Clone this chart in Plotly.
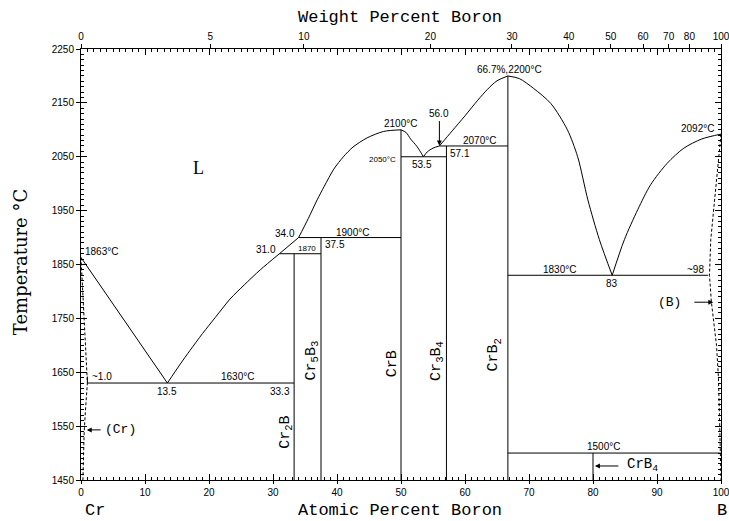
import plotly.graph_objects as go

# ---- Cr-B phase diagram data (composition in at.% B, temperature in °C) ----
# Liquidus branches
liq_cr_x = [0.0, 13.5]
liq_cr_t = [1863, 1630]
liq_cr2b_x = [13.5, 15.5, 17.0, 19.0, 21.0, 23.3, 25.5, 28.0, 31.0]
liq_cr2b_t = [1630, 1665, 1690, 1722, 1752, 1786, 1812, 1840, 1870]
liq_cr5b3_x = [31.0, 34.0]
liq_cr5b3_t = [1870, 1900]
liq_crb_lo_x = [34.0, 35.5, 36.9, 38.0, 39.5, 41.0, 42.5, 44.7, 47.3, 50.0]
liq_crb_lo_t = [1900, 1935, 1970, 1995, 2027, 2050, 2068, 2085, 2097, 2100]
liq_crb_hi_x = [50.0, 50.8, 51.5, 52.5, 53.5]
liq_crb_hi_t = [2100, 2095, 2083, 2069, 2050]
liq_cr3b4_x = [53.5, 54.1, 55.0, 56.0]
liq_cr3b4_t = [2050, 2059, 2066, 2070]
liq_crb2_lo_x = [56.0, 58.0, 60.0, 62.0, 63.5, 65.0, 66.7]
liq_crb2_lo_t = [2070, 2098, 2126, 2155, 2175, 2191, 2200]
liq_crb2_hi_x = [66.7, 68.5, 70.7, 73.4, 76.0, 77.6, 79.2, 81.0, 83.0]
liq_crb2_hi_t = [2200, 2195, 2177, 2149, 2100, 2050, 1970, 1896, 1830]
liq_b_x = [83.0, 84.9, 87.0, 89.0, 91.6, 94.2, 97.0, 100.0]
liq_b_t = [1830, 1896, 1952, 1998, 2038, 2066, 2083, 2092]

# Terminal solid solutions (dashed)
ss_cr_x = [0.0, 0.3, 0.6, 1.0, 0.7, 0.5, 0.3]
ss_cr_t = [1863, 1800, 1720, 1630, 1580, 1540, 1450]
ss_b_x = [100.0, 99.4, 98.95, 98.4, 98.2, 98.5, 99.3, 99.6, 99.8, 100.0]
ss_b_t = [2092, 2020, 1970, 1896, 1830, 1780, 1700, 1640, 1550, 1450]

# Invariant reactions: temperature, left and right composition
inv_t = [1630, 1870, 1900, 2050, 2070, 1830, 1500]
inv_x0 = [1.0, 31.0, 34.0, 50.0, 56.0, 66.7, 66.7]
inv_x1 = [33.3, 37.5, 50.0, 57.1, 66.7, 98.0, 100.0]

# Line compounds: composition, upper temperature, lower temperature
cmp_x = [33.3, 37.5, 50.0, 57.1, 66.7, 80.0]
cmp_top = [1870, 1900, 2100, 2070, 2200, 1500]
cmp_bot = [1450, 1450, 1450, 1450, 1450, 1450]

# Axis ticks
at_ticks = list(range(0, 101, 10))
wt_labels = [0, 5, 10, 20, 30, 40, 50, 60, 70, 80, 100]
M_B, M_CR = 10.81, 51.996


def wt_to_at(w):
    if w >= 100:
        return 100.0
    nb = w / M_B
    return 100.0 * nb / (nb + (100.0 - w) / M_CR)


wt_pos = [wt_to_at(w) for w in wt_labels]

BLACK = "#000000"
fig = go.Figure()


def add_line(xs, ts, dash="solid", shape="linear"):
    fig.add_trace(go.Scatter(x=xs, y=ts, mode="lines", hoverinfo="skip",
                             line=dict(color=BLACK, width=1, dash=dash,
                                       shape=shape, smoothing=0.8),
                             showlegend=False))


add_line(liq_cr_x, liq_cr_t)
add_line(liq_cr5b3_x, liq_cr5b3_t)
for xs, ts in [(liq_cr2b_x, liq_cr2b_t), (liq_crb_lo_x, liq_crb_lo_t),
               (liq_crb_hi_x, liq_crb_hi_t), (liq_cr3b4_x, liq_cr3b4_t),
               (liq_crb2_lo_x, liq_crb2_lo_t), (liq_crb2_hi_x, liq_crb2_hi_t),
               (liq_b_x, liq_b_t)]:
    add_line(xs, ts, shape="spline")

add_line(ss_cr_x, ss_cr_t, dash="3px,2px")
add_line(ss_b_x, ss_b_t, dash="3px,2px")

for t, a, b in zip(inv_t, inv_x0, inv_x1):
    add_line([a, b], [t, t])

for x, top, bot in zip(cmp_x, cmp_top, cmp_bot):
    add_line([x, x], [bot, top])

# small end bracket of the 1630 °C line at ~1.0
add_line([inv_x0[0], inv_x0[0]], [inv_t[0], inv_t[0] + 12])

# helper traces that anchor the overlay axes
fig.add_trace(go.Scatter(x=[None], y=[None], xaxis="x2", yaxis="y",
                         showlegend=False, hoverinfo="skip"))
fig.add_trace(go.Scatter(x=[None], y=[None], xaxis="x3", yaxis="y3",
                         showlegend=False, hoverinfo="skip"))

TICKFONT = dict(family="Liberation Sans", size=10, color=BLACK)
SANS = "Liberation Sans"
MONO = "Liberation Mono"
SERIF = "Liberation Serif"

ann = []


def label(text, x, y, size=10, xanchor="center", yanchor="middle",
          family=SANS, angle=0):
    ann.append(dict(text=text, x=x, y=y, xref="x", yref="y", showarrow=False,
                    xanchor=xanchor, yanchor=yanchor, textangle=angle,
                    font=dict(family=family, size=size, color=BLACK)))


def arrow(x, y, ax, ay):
    ann.append(dict(text="", x=x, y=y, ax=ax, ay=ay, xref="x", yref="y",
                    axref="x", ayref="y", showarrow=True, arrowhead=2,
                    arrowsize=1, arrowwidth=1, arrowcolor=BLACK))


label("L", 18.3, 2030, size=18, family=SERIF)
label("1863°C", 0.3, 1874, size=10, xanchor="left")
label("~1.0", 1.4, 1642, size=10, xanchor="left")
label("13.5", 13.5, 1614, size=10)
label("1630°C", 24.4, 1642, size=10)
label("33.3", 33.0, 1614, size=10, xanchor="right")
label("31.0", 30.8, 1878, size=10, xanchor="right")
label("34.0", 33.8, 1908, size=10, xanchor="right")
label("1870", 35.3, 1880, size=8)
label("37.5", 37.8, 1887, size=10, xanchor="left")
label("1900°C", 42.4, 1910, size=10)
label("2100°C", 49.9, 2112, size=10)
label("2050°C", 49.6, 2045, size=8, xanchor="right")
label("53.5", 53.3, 2036, size=10)
label("56.0", 56.0, 2130, size=10)
arrow(56.0, 2071, 56.0, 2119)
label("2070°C", 62.3, 2081, size=10)
label("57.1", 57.3, 2056, size=10, xanchor="left")
label("66.7%,2200°C", 66.9, 2212, size=10)
label("2092°C", 96.3, 2103, size=10)
label("1830°C", 74.8, 1841, size=10)
label("83", 83.0, 1815, size=10)
label("~98", 97.6, 1841, size=10, xanchor="right")
label("(B)", 94.0, 1780, size=13, xanchor="right", family=MONO)
arrow(98.8, 1780, 95.6, 1780)
label("1500°C", 81.6, 1512, size=10)
label("CrB<sub>4</sub>", 85.0, 1478, size=14, xanchor="left", family=MONO)
arrow(80.3, 1476, 84.2, 1476)
label("(Cr)", 3.4, 1543, size=13, xanchor="left", family=MONO)
arrow(0.9, 1543, 3.3, 1543)

label("Cr<sub>2</sub>B", 31.9, 1538, size=15, family=MONO, angle=-90)
label("Cr<sub>5</sub>B<sub>3</sub>", 36.1, 1672, size=15, family=MONO, angle=-90)
label("CrB", 48.6, 1665, size=15, family=MONO, angle=-90)
label("Cr<sub>3</sub>B<sub>4</sub>", 55.7, 1672, size=15, family=MONO, angle=-90)
label("CrB<sub>2</sub>", 64.6, 1682, size=15, family=MONO, angle=-90)

# axis titles and element names
for text, x, y, fam, size, angle, xanc in [
    ("Weight Percent Boron", 0.498, 1.073, MONO, 17, 0, "center"),
    ("Atomic Percent Boron", 0.498, -0.070, MONO, 17, 0, "center"),
    ("Cr", 0.022, -0.070, MONO, 17, 0, "center"),
    ("B", 1.0125, -0.070, MONO, 17, 0, "right"),
    ("Temperature °C", -0.094, 0.505, "DejaVu Serif", 18, -90, "center"),
]:
    ann.append(dict(text=text, x=x, y=y, xref="paper", yref="paper",
                    showarrow=False, textangle=angle,
                    xanchor=xanc, yanchor="middle",
                    font=dict(family=fam, size=size, color=BLACK)))

XR = [0, 100]
YR = [1450, 2250]

fig.update_layout(
    width=729, height=521,
    margin=dict(l=81, r=8, t=49, b=41, autoexpand=False),
    paper_bgcolor="white", plot_bgcolor="white",
    showlegend=False,
    annotations=ann,
    xaxis=dict(range=XR, tickvals=at_ticks, ticks="outside", ticklen=3,
               tickcolor=BLACK, tickwidth=1, showgrid=False, zeroline=False,
               showline=True, linecolor=BLACK, linewidth=1,
               tickfont=TICKFONT, ticklabeloverflow="allow"),
    xaxis2=dict(range=XR, overlaying="x", side="top", tickvals=wt_pos,
                ticktext=[str(w) for w in wt_labels], ticks="outside",
                ticklen=4, tickcolor=BLACK, showgrid=False, zeroline=False,
                showline=False, tickfont=TICKFONT, ticklabeloverflow="allow"),
    xaxis3=dict(range=XR, overlaying="x", side="bottom", tickvals=at_ticks,
                ticks="inside", ticklen=6, tickcolor=BLACK, showgrid=False,
                zeroline=False, showticklabels=False, showline=True,
                linecolor=BLACK, mirror="allticks",
                minor=dict(ticks="inside", ticklen=3, dtick=1,
                           tickcolor=BLACK, showgrid=False)),
    yaxis=dict(range=YR, tick0=1450, dtick=100, ticks="outside", ticklen=4,
               tickcolor=BLACK, showgrid=False, zeroline=False,
               showline=True, linecolor=BLACK, linewidth=1,
               tickfont=TICKFONT, ticklabeloverflow="allow"),
    yaxis3=dict(range=YR, overlaying="y", tick0=1450, dtick=100,
                ticks="inside", ticklen=6, tickcolor=BLACK, showgrid=False,
                zeroline=False, showticklabels=False, showline=True,
                linecolor=BLACK, mirror="allticks",
                minor=dict(ticks="inside", ticklen=3, dtick=10,
                           tickcolor=BLACK, showgrid=False)),
)

fig.write_html("out.html")
